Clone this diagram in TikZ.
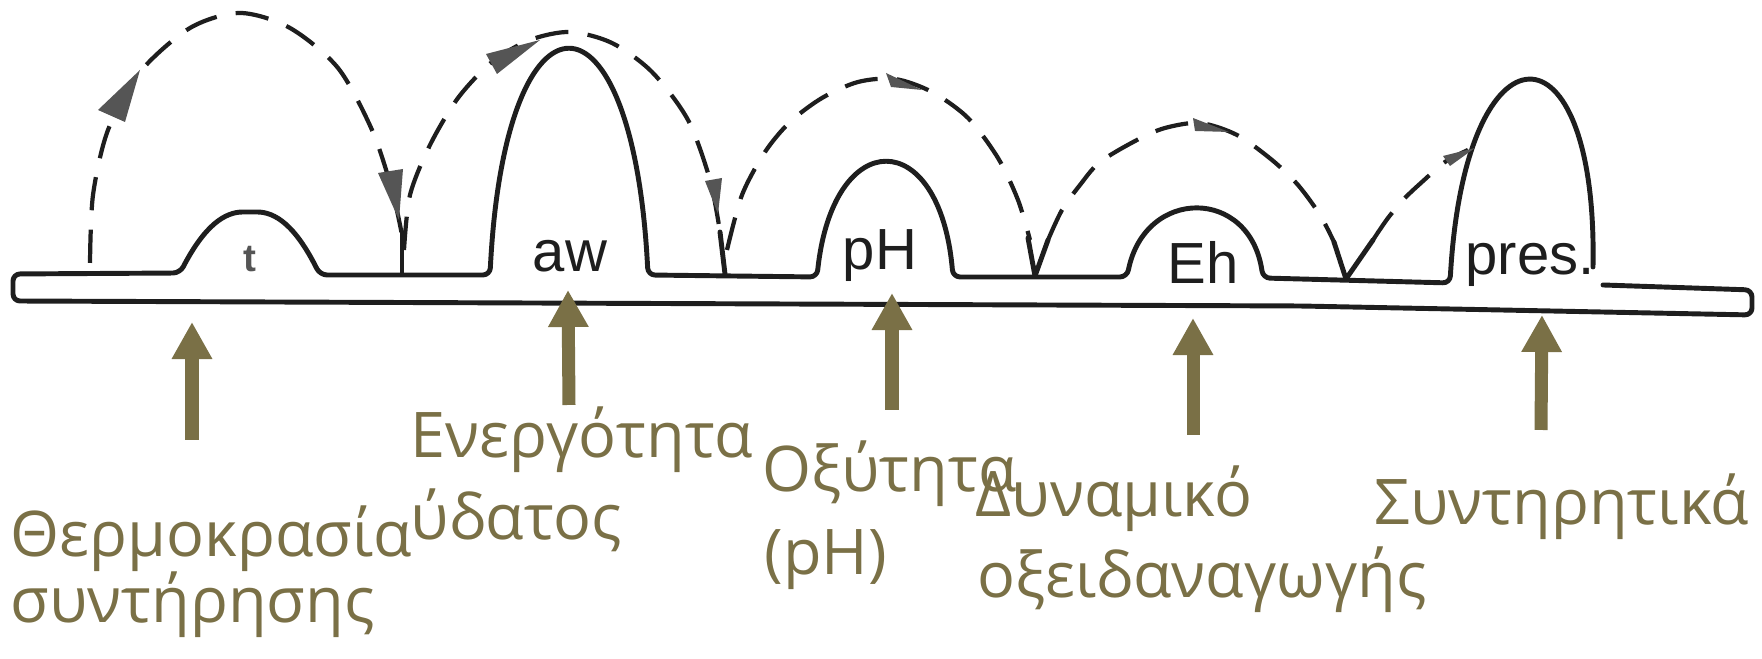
\documentclass[tikz,border=0pt]{standalone}
\usepackage{fontspec}
\setmainfont{Open Sans}
\newfontfamily\scanfont{Liberation Sans}
\usepackage{tikz}
\usetikzlibrary{arrows.meta}
\definecolor{oliva}{RGB}{122,112,70}
\definecolor{tinta}{RGB}{30,30,30}
\definecolor{gris}{RGB}{85,85,85}

\begin{document}
\begin{tikzpicture}[x=0.01cm, y=-0.01cm,
    linea/.style={draw=tinta, line width=1.4pt, line join=round, line cap=round},
    salto/.style={draw=tinta, line width=1.2pt, dash pattern=on 9.5pt off 5.5pt},
    flecha/.style={oliva, line width=0.13cm, -{Triangle[width=0.38cm,length=0.37cm]}},
    factor/.style={anchor=base west, inner sep=0pt, text=oliva, font=\fontsize{17.9}{21}\selectfont},
    dentro/.style={anchor=base, inner sep=0pt, text=tinta, font=\scanfont\fontsize{16.5}{18}\selectfont}]
    \useasboundingbox (0,0) rectangle (1762,659);

    % Barra con los obstáculos
    \draw[linea, rounded corners=2pt] (1603,285) -- (1752,290) -- (1752,315) -- (1300,306) -- (13,301) -- (13,274) -- (180,273)
        .. controls (205,225) and (225,212) .. (250,212) .. controls (275,212) and (295,225) .. (320,275)
        -- (490,275) .. controls (505,-25) and (633,-25) .. (648,275)
        -- (817,277) .. controls (833,125) and (940,125) .. (953,277)
        -- (1127,277) .. controls (1145,187) and (1250,187) .. (1263,278)
        -- (1450,283) .. controls (1465,15) and (1598,15) .. (1593,267);

    % Saltos (línea discontinua)
    \draw[salto] plot[smooth] coordinates {(90,263) (93,195) (108,130) (140,72) (190,28) (240,13) (290,28) (338,68) (372,130) (392,190) (402,235)};
    \draw[salto] plot[smooth] coordinates {(404,250) (410,195) (430,145) (458,98) (492,62) (530,40) (570,32) (612,43) (652,72) (688,120) (710,180) (720,232)};
    \draw[salto] plot[smooth] coordinates {(727,250) (742,195) (765,152) (790,122) (822,98) (858,82) (895,79) (932,92) (968,118) (998,158) (1018,200) (1030,240)};
    \draw[salto] plot[smooth] coordinates {(1048,240) (1062,210) (1080,185) (1100,162) (1137,140) (1165,128) (1200,123) (1237,135) (1272,160) (1298,185) (1320,215) (1334,242)};
    \draw[salto] plot[smooth] coordinates {(1373,240) (1388,218) (1405,198) (1422,182) (1445,162) (1468,150)};

    % Rebotes sobre la barra
    \draw[linea] (402,232) -- (402,273);
    \draw[linea] (720,232) -- (725,274);
    \draw[linea] (1028,238) -- (1035,276) -- (1048,240);
    \draw[linea] (1334,242) -- (1346,279) -- (1373,240);

    % Puntas de los saltos
    \fill[gris] (140,70) -- (98,110) -- (125,122) -- cycle;
    \fill[gris] (399,220) -- (378,173) -- (403,169) -- cycle;
    \fill[gris] (540,40) -- (486,54) -- (497,74) -- cycle;
    \fill[gris] (718,214) -- (705,181) -- (722,178) -- cycle;
    \fill[gris] (922,90) -- (886,73) -- (891,87) -- cycle;
    \fill[gris] (1229,132) -- (1193,118) -- (1195,131) -- cycle;
    \fill[gris] (1475,148) -- (1443,156) -- (1450,166) -- cycle;

    % Rótulos dentro de los obstáculos
    \node[dentro, font=\scanfont\bfseries\fontsize{11}{12}\selectfont, text=gris] (t) at (250,272) {t};
    \node[dentro] (aw) at (570,272) {aw};
    \node[dentro] (ph) at (880,270) {pH};
    \node[dentro] (eh) at (1203,284) {Eh};
    \node[dentro] (pres) at (1530,275) {pres.};

    % Flechas
    \coordinate (c1) at (192,440); \coordinate (p1) at (192,322);
    \coordinate (c2) at (569,405); \coordinate (p2) at (568,290);
    \coordinate (c3) at (892,410); \coordinate (p3) at (892,293);
    \coordinate (c4) at (1193,435); \coordinate (p4) at (1193,318);
    \coordinate (c5) at (1541,430); \coordinate (p5) at (1542,315);
    \draw[flecha] (c1) -- (p1);
    \draw[flecha] (c2) -- (p2);
    \draw[flecha] (c3) -- (p3);
    \draw[flecha] (c4) -- (p4);
    \draw[flecha] (c5) -- (p5);

    % Factores
    \node[factor] (temp1) at (10,557) {Θερμοκρασία};
    \node[factor] (temp2) at (10,623) {συντήρησης};
    \node[factor] (agua1) at (410,458) {Ενεργότητα};
    \node[factor] (agua2) at (410,540) {ύδατος};
    \node[factor] (acid1) at (762,492) {Οξύτητα};
    \node[factor] (acid2) at (764,575) {(pH)};
    \node[factor] (redox1) at (975,517) {Δυναμικό};
    \node[factor] (redox2) at (977,598) {οξειδαναγωγής};
    \node[factor] (cons) at (1374,525) {Συντηρητικά};
\end{tikzpicture}
\end{document}
